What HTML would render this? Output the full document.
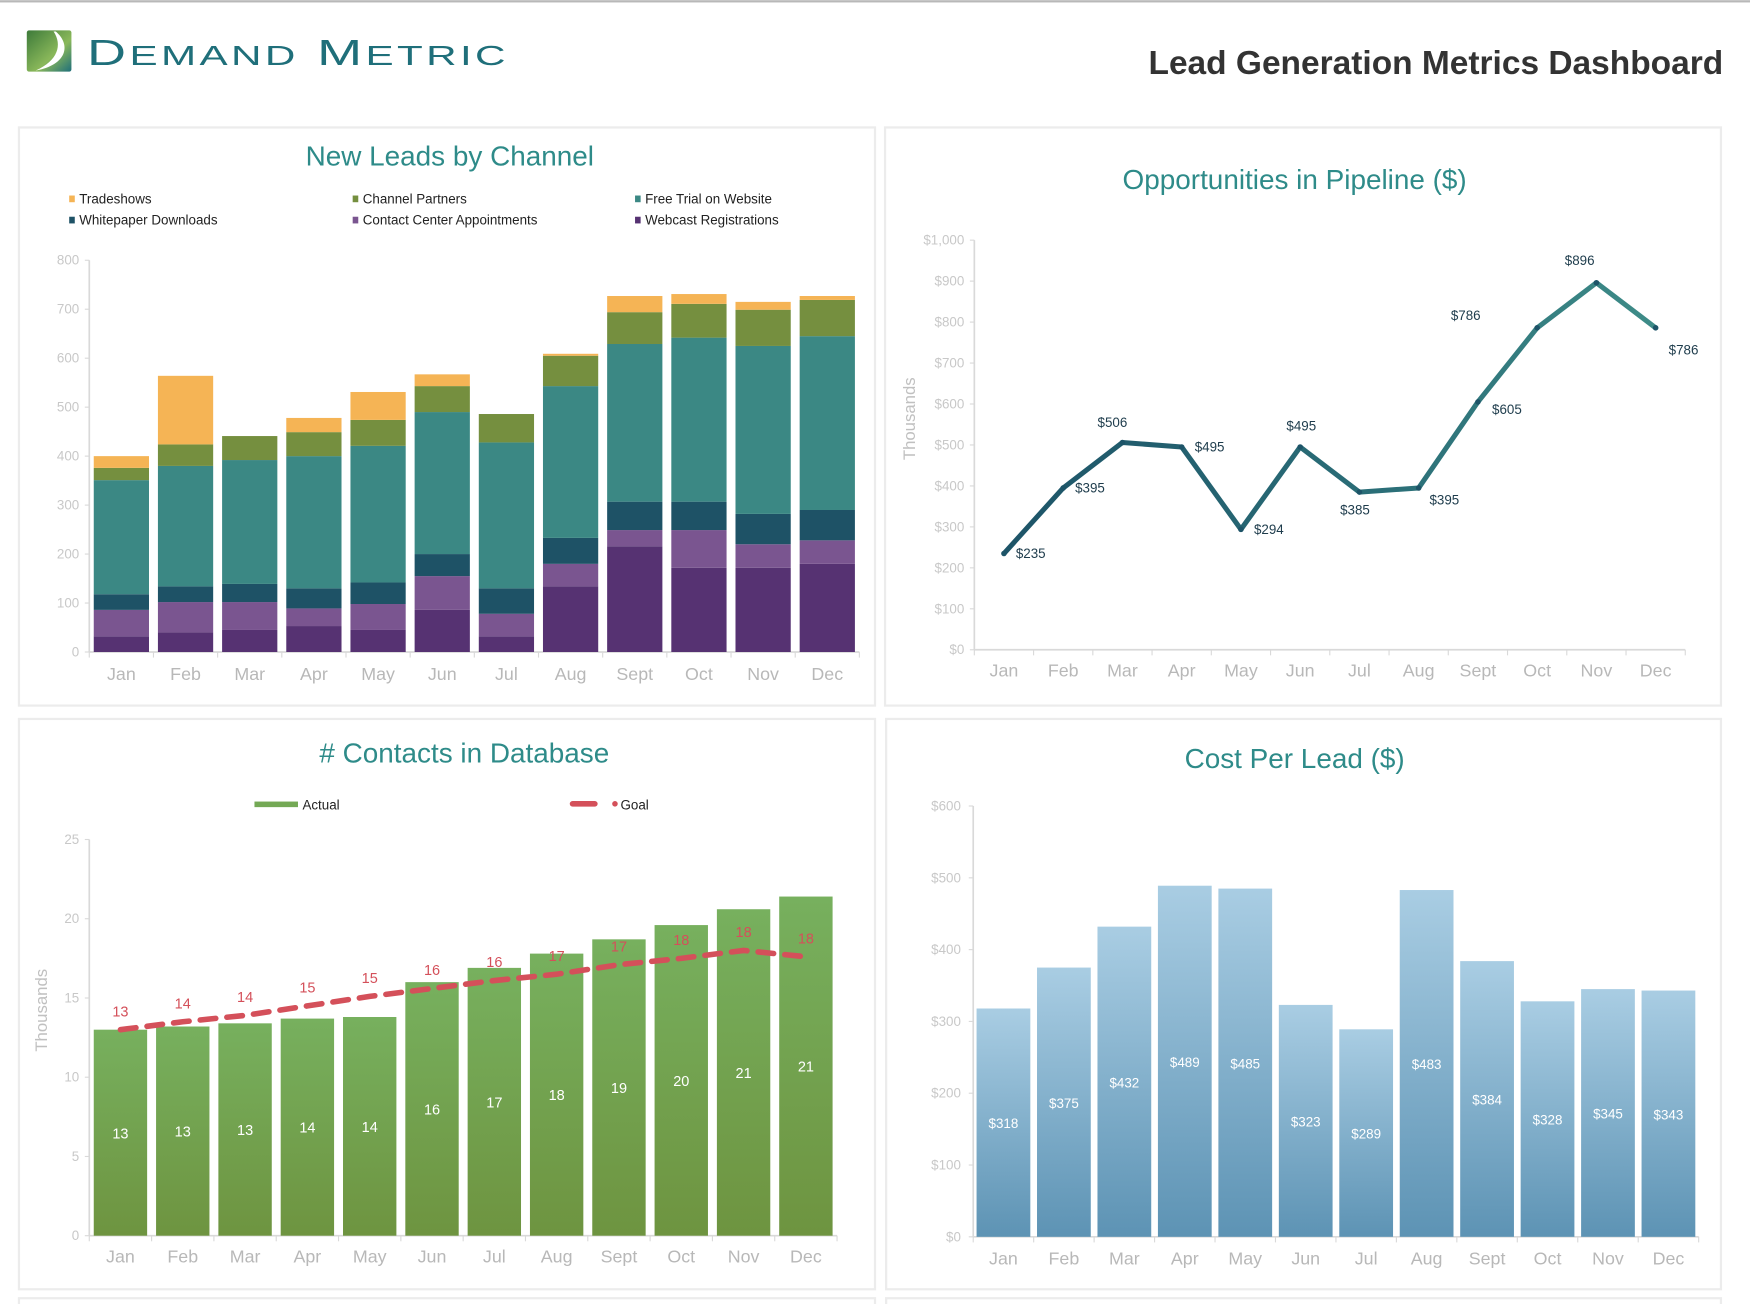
<!DOCTYPE html>
<html><head><meta charset="utf-8">
<style>
html,body{margin:0;padding:0;background:#fff;}
svg{display:block;font-family:"Liberation Sans",Arial,sans-serif;}
</style></head>
<body>
<svg id="root" width="1750" height="1304" viewBox="0 0 1568 1168">
<defs>
<linearGradient id="lg-logo" x1="0" y1="0" x2="1" y2="1"><stop offset="0" stop-color="#3d7a3a"/><stop offset="0.6" stop-color="#8ab85a"/><stop offset="1" stop-color="#1f6f7a"/></linearGradient>
<linearGradient id="lg-green" x1="0" y1="0" x2="0" y2="1"><stop offset="0" stop-color="#77b05e"/><stop offset="1" stop-color="#6e9440"/></linearGradient>
<linearGradient id="lg-blue" x1="0" y1="0" x2="0" y2="1"><stop offset="0" stop-color="#a9cde3"/><stop offset="1" stop-color="#5d93b4"/></linearGradient>
<linearGradient id="lg-line" x1="0" y1="0" x2="1" y2="0"><stop offset="0" stop-color="#1d5468"/><stop offset="0.6" stop-color="#2b6f78"/><stop offset="1" stop-color="#3e8c88"/></linearGradient>
</defs>
<rect x="0" y="0" width="1568" height="2" fill="#b8b8b8"/>
<g>
<rect x="24" y="27" width="40" height="37" rx="2" fill="url(#lg-logo)"/>
<path d="M50 28 C64 40 60 58 32 63 C52 54 56 40 48 28 Z" fill="#fff"/>
<text x="78" y="58" font-size="32" fill="#1f6f7a" textLength="378" lengthAdjust="spacingAndGlyphs" letter-spacing="2">D<tspan font-size="25">EMAND</tspan> M<tspan font-size="25">ETRIC</tspan></text>
</g>
<text x="1544" y="66" text-anchor="end" font-size="30" font-weight="bold" fill="#333">Lead Generation Metrics Dashboard</text>

<rect x="17" y="114" width="767" height="518" fill="#fff" stroke="#ececec" stroke-width="2"/>
<rect x="793" y="114" width="749" height="518" fill="#fff" stroke="#ececec" stroke-width="2"/>
<rect x="17" y="644" width="767" height="511" fill="#fff" stroke="#ececec" stroke-width="2"/>
<rect x="794" y="644" width="748" height="511" fill="#fff" stroke="#ececec" stroke-width="2"/>
<rect x="17" y="1163" width="767" height="10" fill="#fff" stroke="#ececec" stroke-width="2"/>
<rect x="794" y="1163" width="748" height="10" fill="#fff" stroke="#ececec" stroke-width="2"/>

<text x="403" y="148" text-anchor="middle" font-size="25" fill="#2e8b89">New Leads by Channel</text>
<text x="1160" y="169" text-anchor="middle" font-size="25" fill="#2e8b89">Opportunities in Pipeline ($)</text>
<text x="416" y="683" text-anchor="middle" font-size="25" fill="#2e8b89"># Contacts in Database</text>
<text x="1160" y="688" text-anchor="middle" font-size="25" fill="#2e8b89">Cost Per Lead ($)</text>

<g id="c1"></g><g id="c2"></g><g id="c3"></g><g id="c4"></g>
</svg>
<script>
const months = ["Jan","Feb","Mar","Apr","May","Jun","Jul","Aug","Sept","Oct","Nov","Dec"];
// Chart 1 series (bottom to top)
const webcast = [32,40,45,53,45,86,32,134,216,172,172,180];
const contactCenter = [54,62,57,36,53,69,46,46,33,77,48,48];
const whitepaper = [32,32,37,41,44,45,52,53,58,58,62,62];
const freeTrial = [233,246,253,270,279,290,298,310,322,335,343,355];
const channelPartners = [25,44,49,49,53,53,58,62,65,69,74,74];
const tradeshows = [24,140,0,29,57,24,0,4,33,20,16,8];
const leadTicks = [0,100,200,300,400,500,600,700,800];
// Chart 2
const pipeline = [235,395,506,495,294,495,385,395,605,786,896,786];
const pipelineLabels = ["$235","$395","$506","$495","$294","$495","$385","$395","$605","$786","$896","$786"];
const pipelineTicks = [0,100,200,300,400,500,600,700,800,900,1000];
// Chart 3
const contactsActual = [13.0,13.2,13.4,13.7,13.8,16.0,16.9,17.8,18.7,19.6,20.6,21.4];
const contactsActualLabels = ["13","13","13","14","14","16","17","18","19","20","21","21"];
const contactsGoal = [13.0,13.5,13.9,14.5,15.1,15.6,16.1,16.5,17.1,17.5,18.0,17.6];
const contactsGoalLabels = ["13","14","14","15","15","16","16","17","17","18","18","18"];
const contactTicks = [0,5,10,15,20,25];
// Chart 4
const costPerLead = [318,375,432,489,485,323,289,483,384,328,345,343];
const costTicks = [0,100,200,300,400,500,600];

const NS="http://www.w3.org/2000/svg";
function mk(parent,tag,attrs,txt){const e=document.createElementNS(NS,tag);for(const k in attrs)e.setAttribute(k,attrs[k]);if(txt!==undefined)e.textContent=txt;parent.appendChild(e);return e;}

function axes(g,x0,x1,y0,yTop,ticks,fmt,yScale,band,labelY,tickLblX){
  const ax=mk(g,'line',{x1:x0,y1:y0,x2:x0,y2:yTop,stroke:'#d9d9d9','stroke-width':1.5});
  
  
  const bx=mk(g,'line',{x1:x0,y1:y0,x2:x1,y2:y0,stroke:'#d9d9d9','stroke-width':1.5});
  
  
  ticks.forEach(t=>{
    const y=yScale(t);
    mk(g,'line',{x1:x0-4,y1:y,x2:x0,y2:y,stroke:'#d9d9d9'});
    const tl=mk(g,'text',{x:tickLblX,y:y+4,'text-anchor':'end','font-size':12,fill:'#c8c8c8'},fmt(t));
    
    
  });
  months.forEach((m,i)=>{
    const xs=x0+band*i;
    mk(g,'line',{x1:xs,y1:y0,x2:xs,y2:y0+5,stroke:'#d9d9d9'});
    const ml=mk(g,'text',{x:xs+band/2,y:labelY,'text-anchor':'middle','font-size':16,fill:'#b8b8b8'},m);
    
    
  });
  mk(g,'line',{x1:x1,y1:y0,x2:x1,y2:y0+5,stroke:'#d9d9d9'});
}

// ---- Chart 1
(function(){
  const g=document.getElementById('c1');
  const x0=80,x1=770,y0=584,yT=233,band=(x1-x0)/12;
  const ys=v=>y0-(v/800)*(y0-yT);
  axes(g,x0,x1,y0,yT,leadTicks,t=>String(t),ys,band,609,71);
  const series=[[webcast,'#563272'],[contactCenter,'#7a5590'],[whitepaper,'#1e5266'],[freeTrial,'#3b8884'],[channelPartners,'#758f3f'],[tradeshows,'#f5b455']];
  months.forEach((m,i)=>{
    let acc=0;
    series.forEach(s=>{
      const v=s[0][i]; if(v<=0)return;
      const r=mk(g,'rect',{x:x0+band*i+4,y:ys(acc+v),width:band-8,height:ys(acc)-ys(acc+v),fill:s[1]});
      
      
      acc+=v;
    });
  });
  const leg=[['Tradeshows','#f5b455',62,182],['Channel Partners','#758f3f',316,182],['Free Trial on Website','#3b8884',569,182],['Whitepaper Downloads','#1e5266',62,201],['Contact Center Appointments','#7a5590',316,201],['Webcast Registrations','#563272',569,201]];
  leg.forEach(l=>{
    const lg=mk(g,'g',{});
    
    
    mk(lg,'rect',{x:l[2],y:l[3]-7,width:5,height:6,fill:l[1]});
    mk(lg,'text',{x:l[2]+9,y:l[3],'font-size':12,fill:'#222'},l[0]);
  });
})();

// ---- Chart 2
(function(){
  const g=document.getElementById('c2');
  const x0=873,x1=1510,y0=582,yT=215,band=(x1-x0)/12;
  const ys=v=>y0-(v/1000)*(y0-yT);
  axes(g,x0,x1,y0,yT,pipelineTicks,t=>'$'+(t>=1000?'1,000':t),ys,band,606,864);
  const tt=mk(g,'text',{x:820,y:375,'text-anchor':'middle','font-size':15,fill:'#c0c0c0',transform:'rotate(-90 820 375)'},'Thousands');
  
  
  const xs=i=>x0+band*(i+0.5);
  const d=pipeline.map((v,i)=>(i?'L':'M')+xs(i)+' '+ys(v)).join(' ');
  const ln=mk(g,'path',{d:d,fill:'none',stroke:'url(#lg-line)','stroke-width':4.5,'stroke-linejoin':'round','stroke-linecap':'round'});
  
  
  const off=[[24,4],[24,4],[-9,-14],[25,4],[25,4],[1,-15],[-4,20],[23,15],[26,11],[-64,-7],[-15,-16],[25,24]];
  pipeline.forEach((v,i)=>{
    const p=mk(g,'circle',{cx:xs(i),cy:ys(v),r:2.5,fill:'#1d5468'});
    
    
    const t=mk(g,'text',{x:xs(i)+off[i][0],y:ys(v)+off[i][1],'text-anchor':'middle','font-size':12,fill:'#1e3c4c'},pipelineLabels[i]);
    
    
  });
})();

// ---- Chart 3
(function(){
  const g=document.getElementById('c3');
  const x0=80,x1=750,y0=1107,yT=752,band=(x1-x0)/12;
  const ys=v=>y0-(v/25)*(y0-yT);
  axes(g,x0,x1,y0,yT,contactTicks,t=>String(t),ys,band,1131,71);
  const tt=mk(g,'text',{x:42,y:905,'text-anchor':'middle','font-size':15,fill:'#c0c0c0',transform:'rotate(-90 42 905)'},'Thousands');
  
  
  contactsActual.forEach((v,i)=>{
    const x=x0+band*i+4;
    const r=mk(g,'rect',{x:x,y:ys(v),width:band-8,height:y0-ys(v),fill:'url(#lg-green)'});
    
    
    const t=mk(g,'text',{x:x+(band-8)/2,y:(ys(v)+y0)/2+5,'text-anchor':'middle','font-size':13,fill:'#fff'},contactsActualLabels[i]);
    
    
  });
  const xs=i=>x0+band*(i+0.5);
  const d=contactsGoal.map((v,i)=>(i?'L':'M')+xs(i)+' '+ys(v)).join(' ');
  const ln=mk(g,'path',{d:d,fill:'none',stroke:'#d4505a','stroke-width':5,'stroke-dasharray':'14 10','stroke-linecap':'round'});
  
  
  contactsGoal.forEach((v,i)=>{
    const t=mk(g,'text',{x:xs(i),y:ys(v)-12,'text-anchor':'middle','font-size':13,fill:'#d4505a'},contactsGoalLabels[i]);
    
    
  });
  const l1=mk(g,'g',{});
  
  
  mk(l1,'rect',{x:228,y:718,width:39,height:5,fill:'#74a955'});
  mk(l1,'text',{x:271,y:725,'font-size':12,fill:'#222'},'Actual');
  const l2=mk(g,'g',{});
  
  
  mk(l2,'line',{x1:513,y1:720,x2:533,y2:720,stroke:'#d4505a','stroke-width':5,'stroke-linecap':'round'});
  mk(l2,'circle',{cx:551,cy:720,r:2.5,fill:'#d4505a'});
  mk(l2,'text',{x:556,y:725,'font-size':12,fill:'#222'},'Goal');
})();

// ---- Chart 4
(function(){
  const g=document.getElementById('c4');
  const x0=872,x1=1522,y0=1108,yT=722,band=(x1-x0)/12;
  const ys=v=>y0-(v/600)*(y0-yT);
  axes(g,x0,x1,y0,yT,costTicks,t=>'$'+t,ys,band,1133,861);
  costPerLead.forEach((v,i)=>{
    const x=x0+band*i+3;
    const r=mk(g,'rect',{x:x,y:ys(v),width:band-6,height:y0-ys(v),fill:'url(#lg-blue)'});
    
    
    const t=mk(g,'text',{x:x+(band-6)/2,y:(ys(v)+y0)/2+5,'text-anchor':'middle','font-size':12,fill:'#fff'},'$'+v);
    
    
  });
})();
</script>
</body></html>
